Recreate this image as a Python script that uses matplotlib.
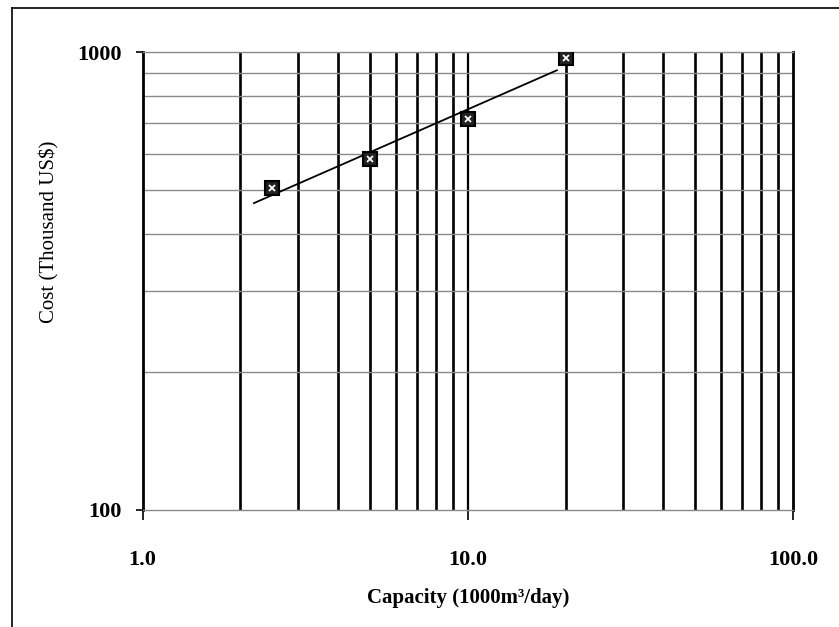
import matplotlib.pyplot as plt
from matplotlib.lines import Line2D
import numpy as np

# capacity (1000 m3/day) vs cost (thousand US$)
capacity = [2.5, 5.0, 10.0, 20.0]
cost = [505, 585, 715, 970]
trend_range = [2.2, 18.8]

x_ticks = [1, 10, 100]
x_labels = ['1.0', '10.0', '100.0']
y_ticks = [100, 1000]
y_labels = ['100', '1000']

plt.rcParams['font.family'] = ['Liberation Serif', 'DejaVu Serif']

fig = plt.figure(figsize=(8.39, 6.27), dpi=100)
ax = fig.add_axes([0.170, 0.187, 0.775, 0.730])

ax.set_xscale('log')
ax.set_yscale('log')
ax.set_xlim(1, 100)
ax.set_ylim(100, 1000)

# grid: heavy black verticals, thin grey horizontals
for dec in [1, 10]:
    for m in range(2, 10):
        ax.axvline(dec * m, color='black', lw=1.9, zorder=1)
ax.axvline(10, color='black', lw=1.6, zorder=1)
for v in range(200, 1000, 100):
    ax.axhline(v, color='#8a8a8a', lw=1.0, zorder=1)

# power trend line fitted in log space
k, b = np.polyfit(np.log10(capacity), np.log10(cost), 1)
tx = np.array(trend_range)
ax.plot(tx, 10 ** (b + k * np.log10(tx)), color='black', lw=1.3, zorder=3)

ax.plot(capacity, cost, ls='none', marker='s', ms=10, mfc='#222222', mec='black', mew=1.5, zorder=4)
ax.plot(capacity, cost, ls='none', marker='x', ms=5, mec='white', mew=1.3, zorder=5)

ax.set_xticks(x_ticks)
ax.set_xticklabels(x_labels)
ax.set_yticks(y_ticks)
ax.set_yticklabels(y_labels)
ax.minorticks_off()
ax.tick_params(axis='x', length=7, width=1.2, pad=22, labelsize=16)
ax.tick_params(axis='y', length=5, width=1.2, pad=10, labelsize=16)
for lab in ax.get_xticklabels() + ax.get_yticklabels():
    lab.set_fontweight('bold')

ax.spines['left'].set_linewidth(2)
ax.spines['right'].set_linewidth(2)
ax.spines['top'].set_color('#8a8a8a')
ax.spines['bottom'].set_color('#8a8a8a')
ax.spines['top'].set_linewidth(1)
ax.spines['bottom'].set_linewidth(1)

ax.set_xlabel('Capacity (1000m\u00b3/day)', fontsize=15, fontweight='bold')
ax.xaxis.set_label_coords(0.5, -0.17)
ax.set_ylabel('Cost (Thousand US$)', fontsize=15)
ax.yaxis.set_label_coords(-0.128, 0.607)

# outer frame of the scanned figure
fig.add_artist(Line2D([12 / 839, 12 / 839], [0, 1 - 8 / 627], color='black', lw=1.2))
fig.add_artist(Line2D([12 / 839, 1], [1 - 8 / 627, 1 - 8 / 627], color='black', lw=1.2))

fig.savefig('out.png', dpi=100)
